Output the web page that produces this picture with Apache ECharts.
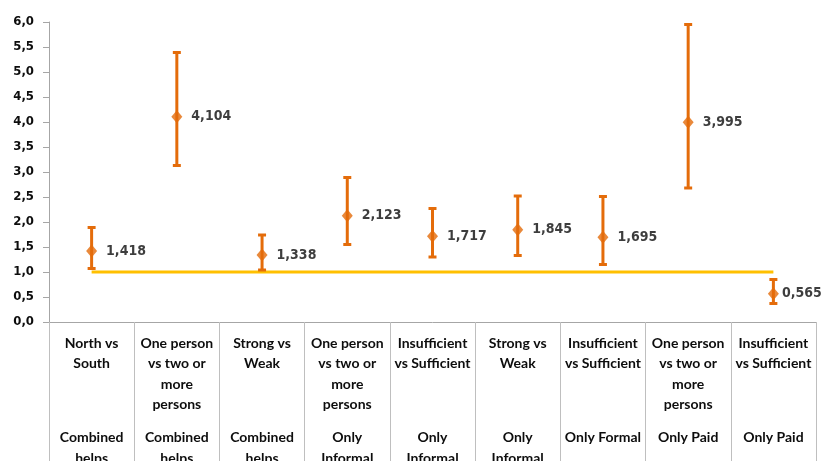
<!DOCTYPE html>
<html>
<head>
<meta charset="utf-8">
<script src="https://cdn.jsdelivr.net/npm/echarts@6/dist/echarts.min.js"></script>
<style>html,body{margin:0;padding:0;background:#fff}#c{width:821px;height:461px}</style>
</head>
<body>
<div id="c"></div>
<script>
const level1Labels = ["North vs\nSouth", "One person\nvs two or\nmore\npersons", "Strong vs\nWeak", "One person\nvs two or\nmore\npersons", "Insufficient\nvs Sufficient", "Strong vs\nWeak", "Insufficient\nvs Sufficient", "One person\nvs two or\nmore\npersons", "Insufficient\nvs Sufficient"];
const level2Labels = ["Combined\nhelps", "Combined\nhelps", "Combined\nhelps", "Only\nInformal", "Only\nInformal", "Only\nInformal", "Only Formal", "Only Paid", "Only Paid"];
const oddsRatios = [1.418, 4.104, 1.338, 2.123, 1.717, 1.845, 1.695, 3.995, 0.565];
const ciLow = [1.07, 3.13, 1.04, 1.55, 1.30, 1.33, 1.15, 2.68, 0.37];
const ciHigh = [1.89, 5.39, 1.74, 2.89, 2.27, 2.52, 2.51, 5.95, 0.85];
const refValue = 1;
const yTicks = {min: 0, max: 6, step: 0.5};

const ORANGE = '#E46C0A';
const chart = echarts.init(document.getElementById('c'));
const catFont = "Lato, sans-serif";
const numFont = "'DejaVu Sans Condensed', 'DejaVu Sans', sans-serif";
const last = oddsRatios.length - 1;
chart.setOption({
  animation: false,
  grid: {left: 49, right: 5, top: 22, bottom: 139, containLabel: false, outerBoundsMode: 'none'},
  xAxis: [{
    type: 'category', data: level1Labels, boundaryGap: true,
    axisLine: {lineStyle: {color: '#a6a6a6', width: 1}},
    axisTick: {show: true, interval: 0, length: 140, lineStyle: {color: '#bfbfbf', width: 1}},
    axisLabel: {interval: 0, margin: 11, fontFamily: catFont, fontWeight: 'bold', fontSize: 14, lineHeight: 20.5, color: '#0d0d0d'}
  }, {
    type: 'category', data: level2Labels, boundaryGap: true, position: 'bottom',
    axisLine: {show: false}, axisTick: {show: false},
    axisLabel: {interval: 0, margin: 105, fontFamily: catFont, fontWeight: 'bold', fontSize: 14, lineHeight: 21, color: '#0d0d0d'}
  }],
  yAxis: {
    type: 'value', min: yTicks.min, max: yTicks.max, interval: yTicks.step,
    splitLine: {show: false},
    axisLine: {show: true, lineStyle: {color: '#a6a6a6'}},
    axisTick: {show: true, length: 6, lineStyle: {color: '#a6a6a6'}},
    axisLabel: {fontFamily: numFont, fontWeight: 'bold', fontSize: 13, color: '#0d0d0d', margin: 15,
      formatter: v => v.toFixed(1).replace('.', ',')}
  },
  series: [{
    type: 'line', data: level1Labels.map(() => refValue), symbol: 'none', z: 1,
    lineStyle: {color: '#FFC000', width: 3}
  }, {
    type: 'custom', z: 3,
    data: oddsRatios.map((v, i) => [i, ciLow[i], ciHigh[i]]),
    renderItem: function (params, api) {
      const lo = api.coord([api.value(0), api.value(1)]);
      const hi = api.coord([api.value(0), api.value(2)]);
      const hw = 4;
      const st = {stroke: ORANGE, lineWidth: 3};
      return {type: 'group', children: [
        {type: 'line', shape: {x1: hi[0], y1: hi[1], x2: lo[0], y2: lo[1]}, style: st},
        {type: 'line', shape: {x1: hi[0] - hw, y1: hi[1], x2: hi[0] + hw, y2: hi[1]}, style: st},
        {type: 'line', shape: {x1: lo[0] - hw, y1: lo[1], x2: lo[0] + hw, y2: lo[1]}, style: st}
      ]};
    }
  }, {
    type: 'scatter', z: 4, symbol: 'diamond', symbolSize: [11, 13],
    data: oddsRatios.map((v, i) => i === last ? {value: v, label: {distance: 3}} : v),
    itemStyle: {color: ORANGE},
    label: {show: true, position: 'right', distance: 9, fontFamily: numFont, fontWeight: 'bold', fontSize: 14, color: '#0d0d0d',
      formatter: p => p.value.toFixed(3).replace('.', ',')}
  }]
});
</script>
</body>
</html>
